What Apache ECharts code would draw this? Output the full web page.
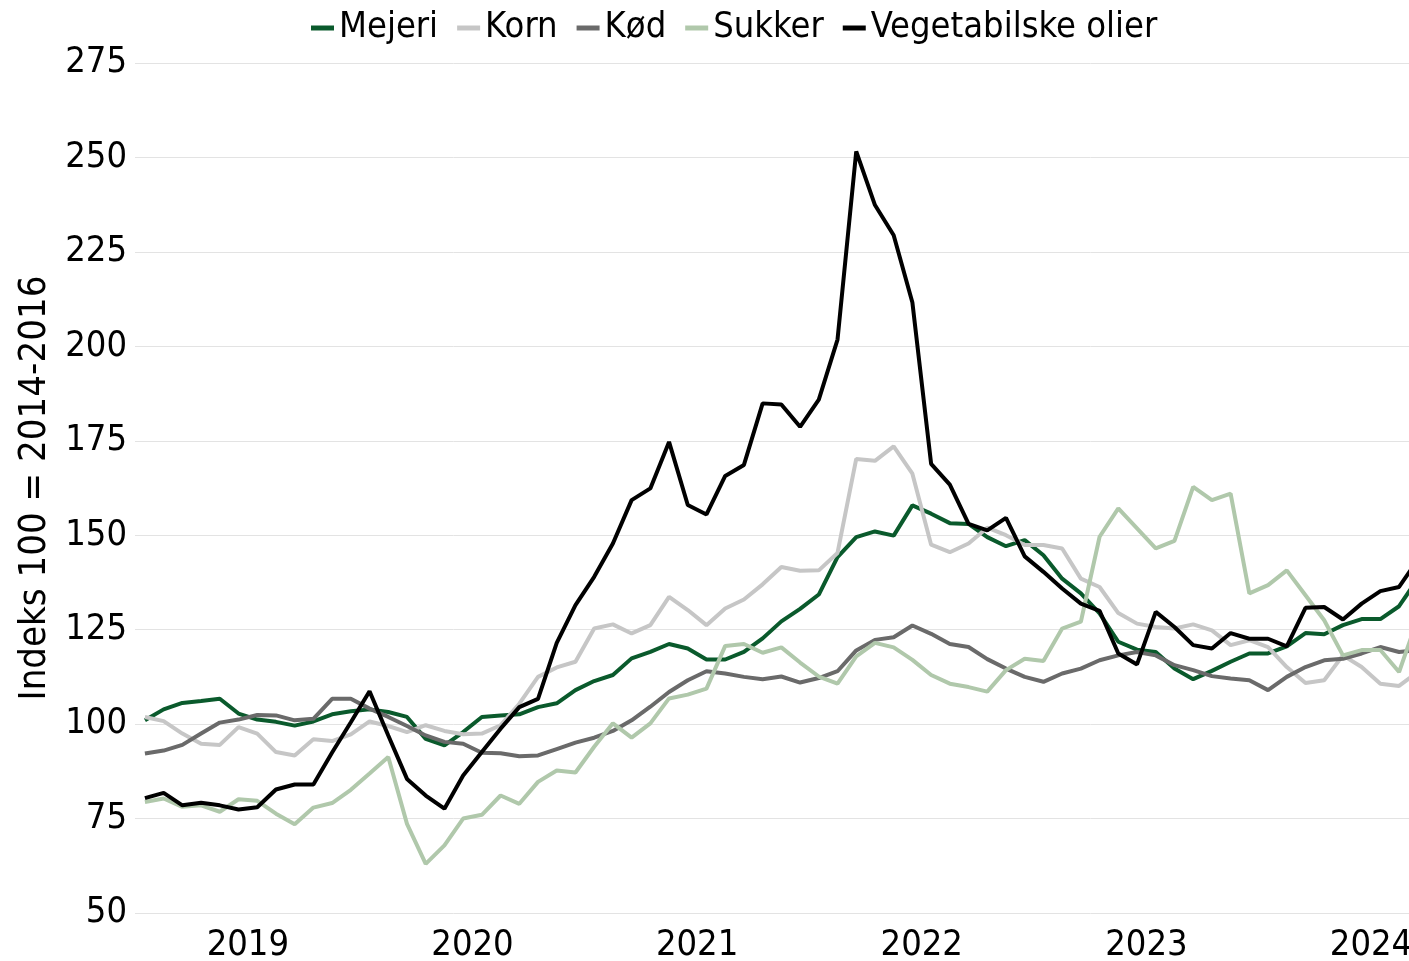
<!DOCTYPE html>
<html>
<head>
<meta charset="utf-8">
<title>Fødevarepriser</title>
<script src="https://cdn.jsdelivr.net/npm/echarts@6/dist/echarts.min.js"></script>
<style>
  html, body { margin: 0; padding: 0; background: #fff; }
  #chart { width: 1409px; height: 961px; }
</style>
</head>
<body>
<div id="chart"></div>
<script>
// maanedlige indeks, foerste punkt = januar 2019
const years = ['2019', '2020', '2021', '2022', '2023', '2024'];

const mejeri = [101.0, 103.9, 105.6, 106.1, 106.7, 102.8, 101.2, 100.6, 99.6, 100.7, 102.6, 103.4,
  103.9, 103.2, 101.9, 96.1, 94.4, 97.9, 101.9, 102.3, 102.6, 104.5, 105.5, 109.0,
  111.4, 113.0, 117.4, 119.1, 121.2, 120.0, 117.1, 117.1, 119.1, 122.7, 127.2, 130.5,
  134.3, 144.2, 149.5, 151.0, 149.9, 157.9, 155.7, 153.2, 153.0, 149.5, 147.1, 148.7,
  144.7, 138.5, 134.6, 129.3, 121.8, 119.7, 119.1, 114.7, 111.9, 114.1, 116.5, 118.7,
  118.7, 120.6, 124.1, 123.8, 126.2, 127.8, 127.8, 131.2, 138.5];

const korn = [101.9, 100.8, 97.5, 94.8, 94.5, 99.2, 97.5, 92.6, 91.7, 96.0, 95.5, 97.3,
  100.7, 99.5, 97.9, 99.7, 98.2, 97.3, 97.5, 99.7, 105.4, 112.5, 115.0, 116.5,
  125.3, 126.4, 124.0, 126.2, 133.7, 130.2, 126.2, 130.6, 133.0, 137.0, 141.6, 140.6,
  140.7, 145.3, 170.2, 169.7, 173.5, 166.3, 147.5, 145.5, 147.8, 152.0, 150.0, 147.4,
  147.4, 146.5, 138.5, 136.3, 129.4, 126.6, 125.7, 125.3, 126.4, 124.8, 120.9, 122.2,
  120.4, 115.1, 110.9, 111.6, 118.2, 115.1, 110.7, 110.1, 113.8];

const koed = [92.2, 93.0, 94.5, 97.5, 100.4, 101.2, 102.4, 102.3, 101.0, 101.4, 106.7, 106.7,
  104.1, 101.9, 99.5, 97.0, 95.3, 94.8, 92.4, 92.3, 91.5, 91.7, 93.4, 95.1,
  96.4, 98.2, 101.0, 104.6, 108.5, 111.6, 114.0, 113.4, 112.5, 111.9, 112.6, 111.0,
  112.2, 114.0, 119.5, 122.3, 123.0, 126.1, 123.9, 121.2, 120.4, 117.2, 114.7, 112.5,
  111.2, 113.4, 114.7, 116.9, 118.2, 119.1, 118.2, 115.6, 114.3, 112.7, 112.1, 111.6,
  109.0, 112.5, 115.1, 116.9, 117.3, 118.7, 120.4, 119.1, 119.6];

const sukker = [79.4, 80.3, 78.1, 78.5, 76.8, 80.1, 79.7, 76.3, 73.5, 77.9, 79.1, 82.6,
  86.9, 91.3, 73.6, 63.0, 67.9, 75.0, 76.0, 81.1, 78.9, 84.7, 87.7, 87.2,
  94.0, 100.2, 96.4, 100.2, 106.8, 107.8, 109.4, 120.7, 121.2, 118.9, 120.3, 116.3,
  112.6, 110.7, 117.9, 121.5, 120.3, 117.0, 113.0, 110.7, 109.8, 108.6, 114.3, 117.3,
  116.7, 125.3, 127.1, 149.6, 157.1, 151.8, 146.5, 148.5, 162.8, 159.3, 161.0, 134.6,
  136.8, 140.7, 134.1, 127.5, 118.2, 119.6, 119.6, 113.8, 128.0];

const olier = [80.4, 81.8, 78.5, 79.2, 78.5, 77.4, 78.0, 82.7, 84.0, 84.0, 92.5, 100.5,
  108.7, 97.0, 85.5, 81.1, 77.6, 86.4, 92.6, 98.8, 104.5, 106.7, 121.5, 131.5,
  139.0, 147.8, 159.3, 162.4, 174.7, 158.0, 155.5, 165.7, 168.6, 184.9, 184.6, 178.7,
  185.9, 201.8, 251.6, 237.4, 229.4, 211.6, 168.9, 163.4, 153.0, 151.3, 154.6, 144.4,
  140.3, 135.9, 131.9, 130.0, 118.7, 115.8, 129.7, 125.7, 120.9, 120.0, 124.1, 122.6,
  122.6, 120.6, 130.8, 131.0, 127.7, 131.9, 135.2, 136.3, 143.5];

const font = '"DejaVu Sans Condensed", "Liberation Sans", sans-serif';

function points(values) {
  return values.map((v, i) => [i, v]);
}

function serie(name, values, color) {
  return {
    name: name,
    type: 'line',
    data: points(values),
    showSymbol: false,
    color: color,
    lineStyle: { width: 4, color: color },
    emphasis: { disabled: true }
  };
}

const chart = echarts.init(document.getElementById('chart'));
chart.setOption({
  animation: false,
  textStyle: { fontFamily: font },
  legend: {
    top: 5,
    left: 306,
    icon: 'rect',
    itemWidth: 23,
    itemHeight: 5,
    itemGap: 19,
    itemTextGap: 7,
    textStyle: { fontSize: 36, color: '#000', fontFamily: font }
  },
  grid: { left: 135, right: 0, top: 63, bottom: 48, outerBoundsMode: 'none' },
  xAxis: {
    type: 'value',
    min: -0.53,
    max: 67.53,
    axisLine: { show: false },
    axisTick: { show: false },
    splitLine: { show: false },
    axisLabel: {
      customValues: years.map((y, k) => 5.5 + 12 * k),
      formatter: v => years[Math.round((v - 5.5) / 12)],
      fontSize: 36,
      color: '#000',
      margin: 15
    }
  },
  yAxis: {
    type: 'value',
    min: 50,
    max: 275,
    interval: 25,
    name: 'Indeks 100 = 2014-2016',
    nameLocation: 'middle',
    nameGap: 78,
    nameTextStyle: { fontSize: 38, color: '#000', fontFamily: font },
    axisLine: { show: false },
    axisTick: { show: false },
    axisLabel: { fontSize: 36, color: '#000', margin: 8 },
    splitLine: { lineStyle: { color: '#e3e3e3', width: 1 } }
  },
  series: [
    serie('Mejeri', mejeri, '#0a5a2c'),
    serie('Korn', korn, '#c6c6c6'),
    serie('Kød', koed, '#6a6a6a'),
    serie('Sukker', sukker, '#b0c8ab'),
    serie('Vegetabilske olier', olier, '#000000')
  ]
});
</script>
</body>
</html>
